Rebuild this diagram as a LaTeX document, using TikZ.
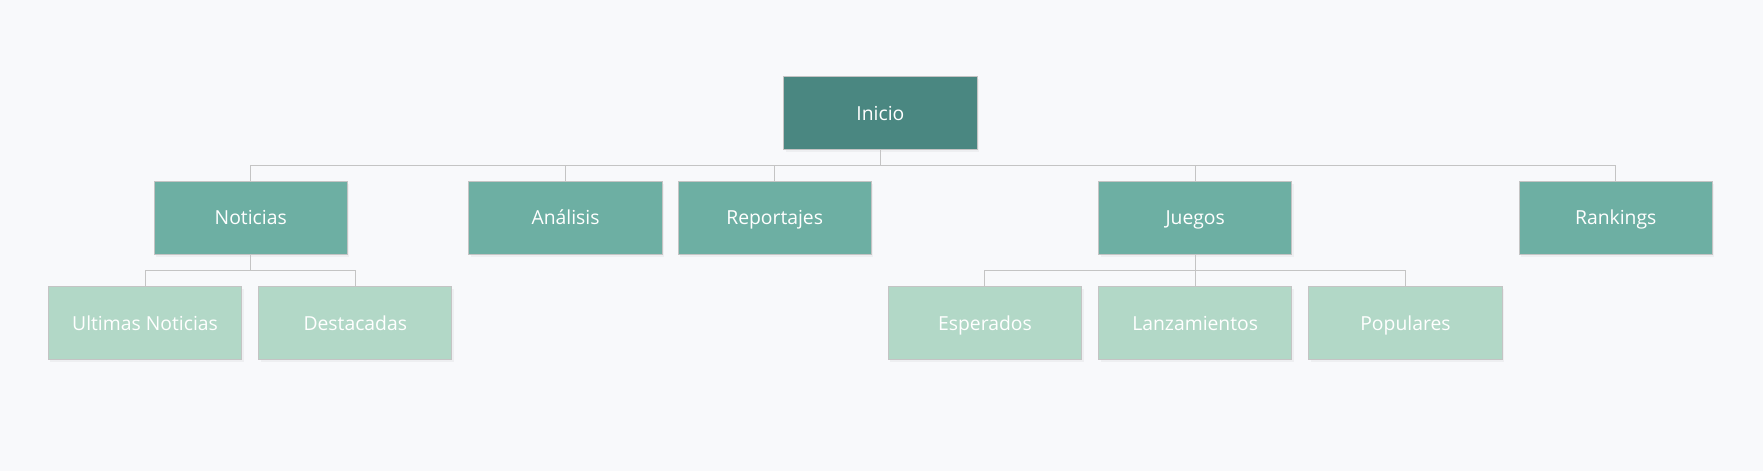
\documentclass[tikz,border=0pt]{standalone}
\usepackage{fontspec}
\setmainfont{Open Sans}
\usetikzlibrary{shadows}
\definecolor{mybg}{HTML}{F8F9FB}
\definecolor{myroot}{HTML}{4A8781}
\definecolor{mymid}{HTML}{6DAFA3}
\definecolor{myleaf}{HTML}{B2D8C7}
\definecolor{myedge}{HTML}{C4C4C4}
\tikzset{
  box/.style={draw=myedge,line width=0.75pt,minimum width=145pt,minimum height=54.8pt,
    text=white,font=\fontsize{14.5}{17}\selectfont,inner sep=0pt,
    text height=12pt,text depth=1.5pt,
    drop shadow={opacity=0.08,shadow xshift=1.5pt,shadow yshift=-2pt}},
  root/.style={box,fill=myroot},
  section/.style={box,fill=mymid},
  leaf/.style={box,fill=myleaf},
  link/.style={draw=myedge,line width=0.75pt}
}

\begin{document}
\begin{tikzpicture}[x=0.8433pt,y=-0.8433pt]
  \useasboundingbox[fill=mybg] (0,0) rectangle (1568,419);

  \def\rowa{100.5} % root row
  \def\rowb{193.5} % sections
  \def\rowc{287.5} % sub sections

  % NODES
  \node[root] (inicio) at (783,\rowa) {Inicio};

  \node[section] (noticias) at (223,\rowb) {Noticias};
  \node[section] (analisis) at (503,\rowb) {Análisis};
  \node[section] (reportajes) at (689,\rowb) {Reportajes};
  \node[section] (juegos) at (1063,\rowb) {Juegos};
  \node[section] (rankings) at (1437,\rowb) {Rankings};

  \node[leaf] (ultimas) at (129,\rowc) {Ultimas Noticias};
  \node[leaf] (destacadas) at (316,\rowc) {Destacadas};
  \node[leaf] (esperados) at (876,\rowc) {Esperados};
  \node[leaf] (lanzamientos) at (1063,\rowc) {Lanzamientos};
  \node[leaf] (populares) at (1250,\rowc) {Populares};

  % LINKS
  \foreach \s in {noticias,analisis,reportajes,juegos,rankings}
    \draw[link] (inicio.south) -- ++(0,14) -| (\s.north);
  \foreach \s in {ultimas,destacadas}
    \draw[link] (noticias.south) -- ++(0,14) -| (\s.north);
  \foreach \s in {esperados,lanzamientos,populares}
    \draw[link] (juegos.south) -- ++(0,14) -| (\s.north);
\end{tikzpicture}
\end{document}
